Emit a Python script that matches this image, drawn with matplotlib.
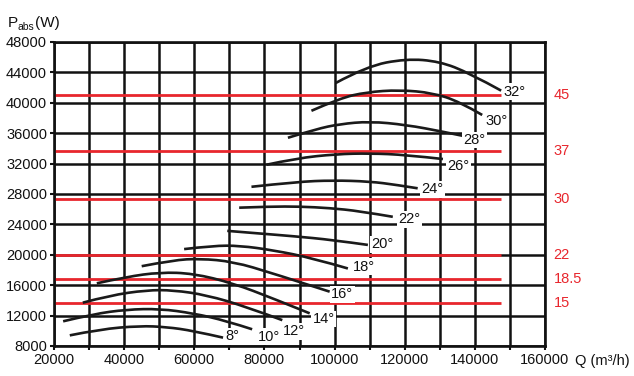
import matplotlib
matplotlib.use("Agg")
import matplotlib.pyplot as plt
from matplotlib.path import Path
from matplotlib.patches import PathPatch

plt.rcParams['font.family'] = ['Liberation Sans Narrow', 'Liberation Sans', 'DejaVu Sans']

# blade angle curves: flow Q (m3/h) and absorbed power P (W)
q8 = [24500, 33100, 44500, 52000, 59700, 68200]
p8 = [9400, 10200, 10650, 10500, 10000, 9100]
q10 = [22600, 31200, 40700, 50200, 59700, 69200, 76500]
p10 = [11250, 12200, 12800, 12900, 12300, 11300, 10200]
q12 = [28200, 35900, 46400, 54000, 63500, 74900, 85100]
p12 = [13700, 14650, 15350, 15350, 14700, 13150, 11400]
q14 = [32200, 40700, 50200, 59700, 71100, 82500, 92900]
p14 = [16250, 17100, 17700, 17550, 16250, 14250, 12300]
q16 = [45000, 54000, 61600, 71100, 82500, 98600]
p16 = [18500, 19300, 19500, 19100, 17550, 15150]
q18 = [57100, 65400, 73000, 82500, 93800, 103800]
p18 = [20750, 21200, 21200, 20600, 19550, 18200]
q20 = [69400, 78700, 88200, 99500, 109500]
p20 = [23150, 22800, 22450, 21950, 21300]
q22 = [72800, 81500, 90100, 98600, 107100, 116600]
p22 = [26200, 26350, 26350, 26150, 25750, 25000]
q24 = [76300, 89200, 99500, 110000, 117700, 123700]
p24 = [28950, 29600, 29800, 29650, 29200, 28750]
q26 = [80600, 89100, 100500, 110000, 120400, 130900]
p26 = [31850, 32700, 33250, 33350, 33150, 32600]
q28 = [86700, 94800, 101500, 110000, 120400, 130900, 136600]
p28 = [35400, 36550, 37200, 37550, 37100, 36200, 35650]
q30 = [93400, 101500, 109100, 118500, 128000, 135600, 142100]
p30 = [38950, 40600, 41400, 41700, 41300, 40150, 38400]
q32 = [100300, 109100, 120400, 129900, 138500, 147500]
p32 = [42600, 44800, 45800, 45450, 43900, 41600]

curves_q = [q8, q10, q12, q14, q16, q18, q20, q22, q24, q26, q28, q30, q32]
curves_p = [p8, p10, p12, p14, p16, p18, p20, p22, p24, p26, p28, p30, p32]
angle_labels = ["8°", "10°", "12°", "14°", "16°", "18°", "20°", "22°", "24°", "26°", "28°", "30°", "32°"]
label_q = [71000, 81200, 88400, 96900, 102200, 108300, 113700, 121400, 127900, 135300, 139900, 146200, 151300]
label_p = [9300, 9200, 9950, 11550, 14800, 18400, 21400, 24700, 28650, 31700, 35100, 37600, 41450]

# motor power limits (kW)
motor_kw = ["45", "37", "30", "22", "18.5", "15"]
motor_p = [41000, 33600, 27300, 20000, 16850, 13700]
motor_q_end = 147500

x_ticks = list(range(20000, 160001, 10000))
y_ticks = list(range(8000, 48001, 4000))


def smooth_path(q, p):
    # quadratic bezier through the read points (points act as control points)
    verts = [(q[0], p[0])]
    codes = [Path.MOVETO]
    n = len(q)
    for i in range(1, n - 1):
        if i < n - 2:
            end = ((q[i] + q[i + 1]) / 2, (p[i] + p[i + 1]) / 2)
        else:
            end = (q[n - 1], p[n - 1])
        verts += [(q[i], p[i]), end]
        codes += [Path.CURVE3, Path.CURVE3]
    return Path(verts, codes)


fig = plt.figure(figsize=(6.34, 3.76), dpi=100)
ax = fig.add_axes([0.0852, 0.0798, 0.7744, 0.8085])

ax.set_xlim(20000, 160000)
ax.set_ylim(8000, 48000)
ax.set_xticks(x_ticks)
ax.set_xticklabels([str(v) if v % 20000 == 0 else "" for v in x_ticks])
ax.set_yticks(y_ticks)
ax.set_yticklabels([str(v) for v in y_ticks])
ax.tick_params(direction='out', length=3, width=1.5, labelsize=10.5, colors='#111111', pad=2)
ax.grid(True, color='#111111', linewidth=1.8)
ax.set_axisbelow(True)
for s in ax.spines.values():
    s.set_linewidth(1.9)
    s.set_color('#111111')

for kw, p in zip(motor_kw, motor_p):
    ax.plot([20000, motor_q_end], [p, p], color='#e8262d', linewidth=2.0, zorder=2,
            solid_capstyle='butt')
    ax.text(162400, p, kw, color='#e8262d', fontsize=10.5, ha='left', va='center',
            clip_on=False)

for q, p in zip(curves_q, curves_p):
    ax.add_patch(PathPatch(smooth_path(q, p), fill=False, edgecolor='#1a1a1a',
                           linewidth=1.9, zorder=3, capstyle='butt'))

for lab, q, p in zip(angle_labels, label_q, label_p):
    ax.text(q, p, lab, fontsize=10.5, ha='center', va='center', color='#111111', zorder=4,
            bbox=dict(facecolor='white', edgecolor='none', pad=1.0))

# y axis title: P with subscript "abs"
fig.text(8 / 634, 1 - 27 / 376, 'P', fontsize=11, ha='left', va='baseline', color='#111111')
fig.text(17.5 / 634, 1 - 30 / 376, 'abs', fontsize=7.5, ha='left', va='baseline', color='#111111')
fig.text(35.5 / 634, 1 - 27 / 376, '(W)', fontsize=11, ha='left', va='baseline', color='#111111')
fig.text(575 / 634, 1 - 361 / 376, 'Q (m³/h)', fontsize=10.5, ha='left', va='center',
         color='#111111')

fig.savefig("out.png", dpi=100)
